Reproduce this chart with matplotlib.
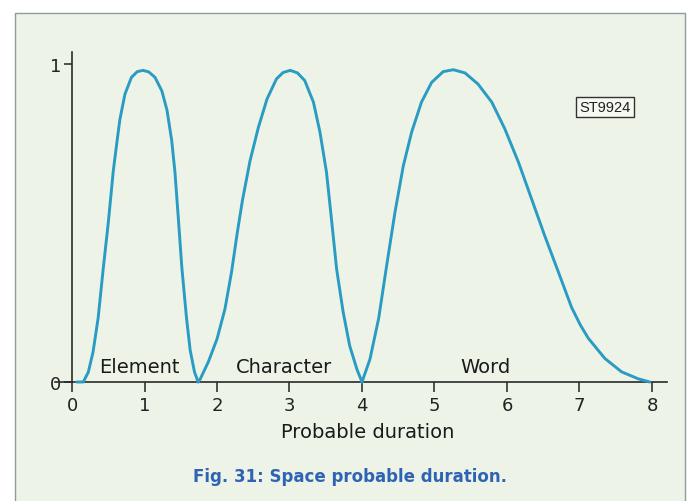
import matplotlib
matplotlib.use("Agg")
import matplotlib.pyplot as plt
from matplotlib.patches import Rectangle

# ---- data ----
element_x = [0.065, 0.155, 0.225, 0.29, 0.36, 0.43, 0.50, 0.57, 0.62, 0.66, 0.73, 0.82,
             0.90, 0.98, 1.06, 1.145, 1.24, 1.31, 1.375, 1.42, 1.465, 1.515, 1.58, 1.63,
             1.69, 1.74]
element_y = [0.0, 0.0, 0.031, 0.094, 0.20, 0.355, 0.50, 0.665, 0.755, 0.825, 0.905, 0.958,
             0.976, 0.980, 0.975, 0.958, 0.915, 0.855, 0.76, 0.66, 0.52, 0.36, 0.20, 0.100,
             0.031, 0.0]

character_x = [1.74, 1.77, 1.88, 2.00, 2.11, 2.20, 2.28, 2.35, 2.455, 2.57, 2.69, 2.82,
               2.91, 3.01, 3.11, 3.21, 3.33, 3.42, 3.51, 3.58, 3.65, 3.74, 3.83, 3.93, 4.00]
character_y = [0.0, 0.01, 0.063, 0.135, 0.23, 0.345, 0.47, 0.57, 0.695, 0.80, 0.89, 0.953,
               0.973, 0.980, 0.972, 0.948, 0.88, 0.786, 0.66, 0.51, 0.355, 0.22, 0.114,
               0.04, 0.0]

word_x = [4.00, 4.11, 4.23, 4.34, 4.455, 4.57, 4.685, 4.82, 4.96, 5.12, 5.26, 5.42,
          5.60, 5.79, 5.97, 6.16, 6.34, 6.52, 6.71, 6.89, 7.01, 7.12, 7.35, 7.58, 7.81, 7.97]
word_y = [0.0, 0.072, 0.20, 0.366, 0.534, 0.68, 0.786, 0.88, 0.942, 0.976, 0.982, 0.972,
          0.937, 0.88, 0.796, 0.69, 0.575, 0.46, 0.345, 0.235, 0.18, 0.138, 0.074, 0.032,
          0.01, 0.0]

x_ticks = [0, 1, 2, 3, 4, 5, 6, 7, 8]
y_ticks = [0, 1]
region_labels = ["Element", "Character", "Word"]
region_label_x = [0.93, 2.92, 5.70]

plt.rcParams["font.family"] = ["DejaVu Sans"]

# ---- figure ----
W, H = 691, 502
fig = plt.figure(figsize=(W / 100, H / 100), dpi=100)
fig.patch.set_facecolor("white")

panel = Rectangle((15 / W, -0.02), (685 - 15) / W, (H - 14) / H + 0.02,
                  transform=fig.transFigure, facecolor="#edf4e7",
                  edgecolor="#8f9c9c", linewidth=1.0, zorder=-5)
fig.patches.append(panel)

ax = fig.add_axes([55 / W, 119 / H, 612 / W, 330 / H])
ax.set_zorder(2)
ax.set_facecolor("none")
ax.set_xlim(-17 / 72.5, 595 / 72.5)
ax.set_ylim(0, 330 / 318)

line_color = "#2a9bc3"
for xs, ys in [(element_x, element_y), (character_x, character_y), (word_x, word_y)]:
    ax.plot(xs, ys, color=line_color, linewidth=2.1, solid_capstyle="round",
            solid_joinstyle="round", zorder=3, clip_on=False)

for sp in ["top", "right"]:
    ax.spines[sp].set_visible(False)
ax.spines["left"].set_position(("data", 0))
ax.spines["left"].set_color("#2a2a2a")
ax.spines["bottom"].set_color("#2a2a2a")
ax.spines["left"].set_linewidth(1.2)
ax.spines["bottom"].set_linewidth(1.2)

ax.set_xticks(x_ticks)
ax.set_xticklabels([str(t) for t in x_ticks])
ax.set_yticks(y_ticks)
ax.set_yticklabels([str(t) for t in y_ticks])
ax.tick_params(axis="x", direction="out", length=7, width=1.1, pad=3,
               labelsize=13, colors="#222222")
ax.tick_params(axis="y", direction="out", length=6, width=1.1, pad=2,
               labelsize=13, colors="#222222")

for lab, xc in zip(region_labels, region_label_x):
    ax.text(xc, 0.03, lab, ha="center", va="baseline", fontsize=14,
            color="#1a1a1a")

ax.set_xlabel("Probable duration", fontsize=14, color="#1a1a1a")
ax.xaxis.set_label_coords((368 - 55) / 612, -(423 - 383) / 330)
ax.xaxis.label.set_va("top")

fig.text(350 / W, 1 - 477 / H, "Fig. 31: Space probable duration.",
         ha="center", va="center", fontsize=12, fontweight="bold",
         color="#2f63b3")

fig.text(605 / W, 1 - 108 / H, "ST9924", ha="center", va="center",
         fontsize=10.5, color="#222222", family=["Liberation Sans"],
         bbox=dict(boxstyle="square,pad=0.2", facecolor="#f6f8f2",
                   edgecolor="#333333", linewidth=1.0))

fig.savefig("out.png", dpi=100)
